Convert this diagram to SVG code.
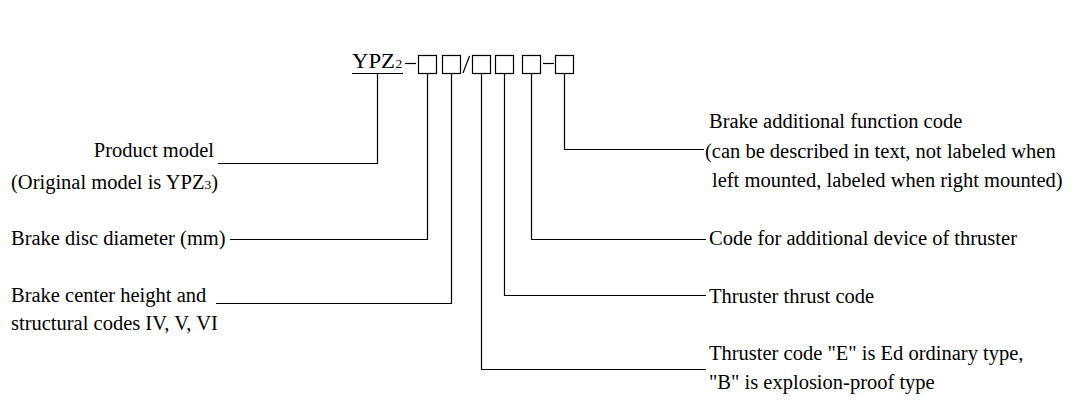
<svg xmlns="http://www.w3.org/2000/svg" width="1074" height="403" viewBox="0 0 1074 403">
<style>
text{font-family:"Liberation Serif","Times New Roman",serif;font-size:20.5px;fill:#000}
.hd{font-size:22px}
.sub{font-size:13.5px}
.ln{fill:none;stroke:#000;stroke-width:1.2}
.bx{fill:#fff;stroke:#000;stroke-width:1.2}
</style>
<rect width="1074" height="403" fill="#fff"/>
<g id="header">
<text class="hd" x="352" y="68" textLength="43" lengthAdjust="spacingAndGlyphs">YPZ</text>
<text class="sub" x="395.5" y="68">2</text>
<line class="ln" x1="352" y1="73.5" x2="403" y2="73.5"/>
<line class="ln" x1="405" y1="63.5" x2="416" y2="63.5"/>
<rect class="bx" x="418.5" y="55.5" width="18" height="18"/>
<rect class="bx" x="442.5" y="55.5" width="18" height="18"/>
<line class="ln" x1="463" y1="73" x2="469.5" y2="56"/>
<rect class="bx" x="472.5" y="55.5" width="18" height="18"/>
<rect class="bx" x="495.5" y="55.5" width="18" height="18"/>
<rect class="bx" x="522.5" y="55.5" width="18" height="18"/>
<line class="ln" x1="543" y1="63.5" x2="554" y2="63.5"/>
<rect class="bx" x="555.5" y="55.5" width="18" height="18"/>
</g>
<g id="connectors">
<polyline class="ln" points="377.5,74 377.5,163.5 218,163.5"/>
<polyline class="ln" points="427.5,74 427.5,239.5 230,239.5"/>
<polyline class="ln" points="451.5,74 451.5,303.5 216,303.5"/>
<polyline class="ln" points="481.5,74 481.5,369.5 706,369.5"/>
<polyline class="ln" points="504.5,74 504.5,295.5 706,295.5"/>
<polyline class="ln" points="531.5,74 531.5,239.5 706,239.5"/>
<polyline class="ln" points="564.5,74 564.5,149.5 704,149.5"/>
</g>
<g id="product-model">
<text x="214" y="157" text-anchor="end">Product model</text>
<text x="11" y="189">(Original model is YPZ<tspan class="sub">3</tspan>)</text>
</g>
<g id="disc-diameter">
<text x="11" y="245">Brake disc diameter (mm)</text>
</g>
<g id="center-height">
<text x="11" y="302">Brake center height and</text>
<text x="11" y="330">structural codes IV, V, VI</text>
</g>
<g id="additional-function">
<text x="709" y="128">Brake additional function code</text>
<text x="705" y="158">(can be described in text, not labeled when</text>
<text x="712" y="187">left mounted, labeled when right mounted)</text>
</g>
<g id="additional-device">
<text x="709" y="245">Code for additional device of thruster</text>
</g>
<g id="thrust-code">
<text x="709" y="303">Thruster thrust code</text>
</g>
<g id="thruster-code">
<text x="709" y="360">Thruster code "E" is Ed ordinary type,</text>
<text x="709" y="389">"B" is explosion-proof type</text>
</g>
</svg>
